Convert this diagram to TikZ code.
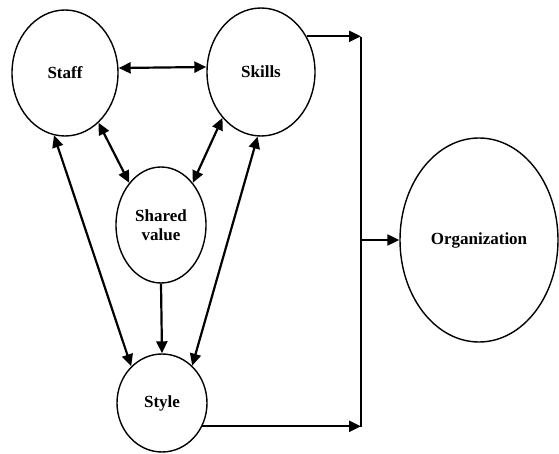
\documentclass[tikz,border=0pt]{standalone}
\usepackage{fontspec}
\setmainfont{Liberation Serif}
\usetikzlibrary{positioning,arrows.meta,shapes.geometric}

\begin{document}
\begin{tikzpicture}[x=1pt,y=-1pt,
	factor/.style={draw,ellipse,line width=1.4pt,inner sep=0pt,align=center,font=\fontsize{17}{19}\selectfont\bfseries},
	link/.style={line width=2.2pt,-{Triangle[length=12pt,width=11pt]}},
	twolink/.style={line width=2.2pt,{Triangle[length=12pt,width=11pt]}-{Triangle[length=12pt,width=11pt]}}]
				\useasboundingbox (0,0) rectangle (559,454);
				% The four factors
				\node [factor,minimum width=106pt,minimum height=126pt] (staff) at (65,73) {Staff};
				\node [factor,minimum width=108pt,minimum height=128pt] (skills) at (261,72) {Skills};
				\node [factor,minimum width=90pt,minimum height=116pt] (shared) at (161,225) {Shared\\value};
				\node [factor,minimum width=90pt,minimum height=98pt] (style) at (162,403) {Style};
				\node [factor,minimum width=158pt,minimum height=204pt] (org) at (479,240) {Organization};
				\coordinate []  (jtop) at (361,37) ;
				\coordinate []  (jbot) at (361,427) ;
				% Links between the factors
				\draw[twolink] ([yshift=5pt]staff.east) -- ([yshift=5pt]skills.west);
				\draw[twolink] (staff.-56) -- (shared.127);
				\draw[twolink] (skills.230) -- (shared.53);
				\draw[twolink] (staff.260) -- (style.130);
				\draw[twolink] (skills.267) -- (style.51);
				\draw[link] (shared.south) -- (style.north);
				% Into the organization
				\draw[link] (skills.38) -- (skills.38 -| jtop);
				\draw[link] (style.-30) -- (style.-30 -| jbot);
				\draw[line width=2.2pt] (jtop) -- (jbot);
				\draw[link] (org.west -| jtop) -- (org.west);
			\end{tikzpicture}
\end{document}
